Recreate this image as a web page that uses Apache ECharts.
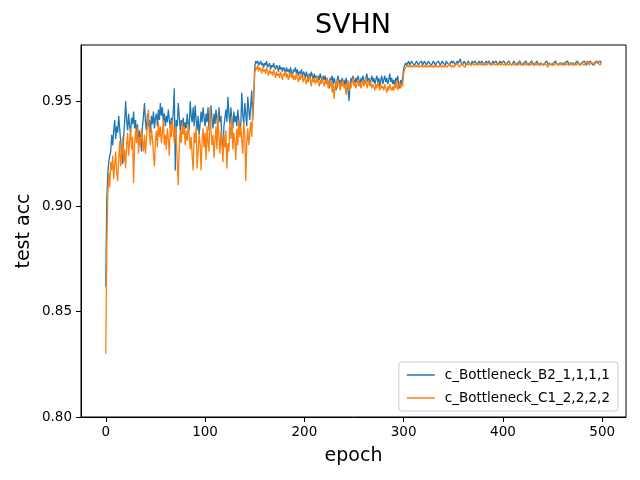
<!DOCTYPE html>
<html>
<head>
<meta charset="utf-8">
<script src="https://cdn.jsdelivr.net/npm/echarts@6/dist/echarts.min.js"></script>
<style>
  html, body { margin: 0; padding: 0; background: #fff; }
  #chart { width: 640px; height: 480px; }
</style>
</head>
<body>
<div id="chart"></div>
<script>
// test accuracy per epoch
const seriesNames = ['c_Bottleneck_B2_1,1,1,1', 'c_Bottleneck_C1_2,2,2,2'];

const accB2 = [
  0.862, 0.903, 0.915, 0.921, 0.924, 0.926, 0.934, 0.929, 0.936, 0.941,
  0.932, 0.938, 0.935, 0.943, 0.937, 0.931, 0.925, 0.920, 0.933, 0.940,
  0.950, 0.941, 0.936, 0.944, 0.938, 0.935, 0.942, 0.939, 0.945, 0.937,
  0.941, 0.934, 0.939, 0.930, 0.936, 0.932, 0.926, 0.938, 0.943, 0.949,
  0.940, 0.936, 0.944, 0.938, 0.941, 0.935, 0.943, 0.939, 0.945, 0.937,
  0.942, 0.944, 0.938, 0.946, 0.941, 0.949, 0.943, 0.947, 0.940, 0.944,
  0.938, 0.943, 0.940, 0.946, 0.941, 0.937, 0.942, 0.939, 0.945, 0.956,
  0.917, 0.941, 0.938, 0.949, 0.943, 0.936, 0.941, 0.938, 0.942, 0.935,
  0.940, 0.937, 0.944, 0.939, 0.936, 0.950, 0.943, 0.940, 0.947, 0.938,
  0.948, 0.941, 0.936, 0.943, 0.934, 0.939, 0.945, 0.940, 0.947, 0.942,
  0.938, 0.944, 0.940, 0.947, 0.936, 0.943, 0.948, 0.941, 0.937, 0.944,
  0.939, 0.946, 0.941, 0.936, 0.947, 0.940, 0.943, 0.931, 0.925, 0.938,
  0.942, 0.946, 0.940, 0.952, 0.944, 0.939, 0.947, 0.941, 0.937, 0.945,
  0.940, 0.943, 0.938, 0.946, 0.941, 0.936, 0.939, 0.954, 0.943, 0.939,
  0.949, 0.944, 0.938, 0.952, 0.946, 0.941, 0.941, 0.955, 0.941, 0.951,
  0.966, 0.969, 0.968, 0.969, 0.967, 0.968, 0.969, 0.967, 0.968, 0.966,
  0.968, 0.967, 0.969, 0.966, 0.967, 0.968, 0.965, 0.967, 0.966, 0.968,
  0.966, 0.965, 0.967, 0.966, 0.964, 0.967, 0.965, 0.966, 0.964, 0.966,
  0.965, 0.963, 0.966, 0.964, 0.965, 0.963, 0.966, 0.964, 0.962, 0.965,
  0.964, 0.966, 0.963, 0.965, 0.962, 0.964, 0.963, 0.965, 0.961, 0.964,
  0.963, 0.961, 0.964, 0.962, 0.960, 0.963, 0.961, 0.964, 0.962, 0.960,
  0.963, 0.961, 0.962, 0.959, 0.962, 0.960, 0.963, 0.961, 0.959, 0.962,
  0.960, 0.962, 0.958, 0.961, 0.959, 0.956, 0.961, 0.960, 0.962, 0.958,
  0.961, 0.959, 0.955, 0.960, 0.962, 0.958, 0.960, 0.957, 0.961, 0.959,
  0.960, 0.957, 0.961, 0.958, 0.955, 0.950, 0.958, 0.961, 0.959, 0.962,
  0.960, 0.958, 0.961, 0.959, 0.962, 0.960, 0.957, 0.961, 0.959, 0.962,
  0.960, 0.958, 0.961, 0.963, 0.959, 0.961, 0.958, 0.960, 0.962, 0.959,
  0.961, 0.958, 0.960, 0.962, 0.959, 0.961, 0.957, 0.960, 0.962, 0.958,
  0.960, 0.962, 0.959, 0.961, 0.958, 0.960, 0.963, 0.959, 0.961, 0.958,
  0.960, 0.957, 0.961, 0.959, 0.962, 0.958, 0.956, 0.960, 0.958, 0.961,
  0.965, 0.967, 0.968, 0.967, 0.968, 0.969, 0.967, 0.968, 0.969, 0.968,
  0.968, 0.967, 0.968, 0.969, 0.968, 0.967, 0.968, 0.968, 0.969, 0.967,
  0.968, 0.969, 0.968, 0.967, 0.968, 0.969, 0.968, 0.968, 0.967, 0.968,
  0.969, 0.968, 0.967, 0.968, 0.968, 0.969, 0.968, 0.967, 0.968, 0.969,
  0.968, 0.968, 0.967, 0.969, 0.968, 0.968, 0.967, 0.968, 0.969, 0.968,
  0.969, 0.968, 0.967, 0.968, 0.969, 0.968, 0.968, 0.970, 0.968, 0.967,
  0.968, 0.969, 0.968, 0.967, 0.968, 0.969, 0.968, 0.968, 0.967, 0.969,
  0.968, 0.968, 0.969, 0.968, 0.967, 0.968, 0.969, 0.968, 0.968, 0.969,
  0.968, 0.967, 0.968, 0.969, 0.968, 0.968, 0.969, 0.968, 0.967, 0.968,
  0.969, 0.968, 0.968, 0.969, 0.968, 0.967, 0.968, 0.969, 0.968, 0.968,
  0.968, 0.969, 0.968, 0.967, 0.968, 0.968, 0.969, 0.968, 0.968, 0.967,
  0.968, 0.969, 0.968, 0.968, 0.967, 0.968, 0.968, 0.969, 0.968, 0.968,
  0.967, 0.968, 0.968, 0.969, 0.968, 0.968, 0.967, 0.968, 0.968, 0.969,
  0.968, 0.968, 0.967, 0.968, 0.969, 0.968, 0.968, 0.967, 0.968, 0.968,
  0.968, 0.967, 0.968, 0.968, 0.969, 0.968, 0.967, 0.968, 0.968, 0.968,
  0.967, 0.968, 0.968, 0.969, 0.968, 0.968, 0.967, 0.968, 0.968, 0.968,
  0.968, 0.967, 0.968, 0.968, 0.968, 0.969, 0.968, 0.967, 0.968, 0.968,
  0.968, 0.968, 0.967, 0.968, 0.968, 0.969, 0.968, 0.968, 0.967, 0.968,
  0.968, 0.968, 0.969, 0.968, 0.967, 0.968, 0.968, 0.968, 0.969, 0.968,
  0.968, 0.967, 0.968, 0.968, 0.969, 0.968, 0.968, 0.968, 0.969, 0.968
];

const accC1 = [
  0.830, 0.880, 0.905, 0.916, 0.909, 0.921, 0.917, 0.924, 0.913, 0.920,
  0.926, 0.916, 0.912, 0.922, 0.931, 0.919, 0.925, 0.933, 0.921, 0.927,
  0.918, 0.929, 0.935, 0.924, 0.931, 0.937, 0.927, 0.933, 0.911, 0.929,
  0.936, 0.930, 0.938, 0.925, 0.933, 0.929, 0.937, 0.931, 0.926, 0.934,
  0.925, 0.932, 0.939, 0.946, 0.934, 0.929, 0.937, 0.932, 0.925, 0.919,
  0.931, 0.936, 0.928, 0.940, 0.933, 0.938, 0.930, 0.935, 0.941, 0.929,
  0.934, 0.927, 0.937, 0.932, 0.924, 0.939, 0.933, 0.941, 0.936, 0.930,
  0.938, 0.932, 0.922, 0.910, 0.928, 0.936, 0.930, 0.940, 0.934, 0.938,
  0.929, 0.936, 0.931, 0.939, 0.934, 0.927, 0.933, 0.924, 0.917, 0.935,
  0.930, 0.938, 0.918, 0.926, 0.934, 0.929, 0.917, 0.931, 0.937, 0.928,
  0.935, 0.922, 0.938, 0.930, 0.926, 0.947, 0.936, 0.929, 0.934, 0.923,
  0.931, 0.938, 0.927, 0.944, 0.933, 0.925, 0.936, 0.930, 0.921, 0.934,
  0.928, 0.936, 0.918, 0.930, 0.926, 0.939, 0.932, 0.943, 0.927, 0.935,
  0.930, 0.922, 0.937, 0.929, 0.941, 0.933, 0.938, 0.931, 0.925, 0.940,
  0.934, 0.912, 0.930, 0.937, 0.929, 0.935, 0.940, 0.933, 0.945, 0.953,
  0.963, 0.966, 0.965, 0.967, 0.964, 0.966, 0.965, 0.963, 0.966, 0.964,
  0.965, 0.963, 0.966, 0.964, 0.962, 0.965, 0.963, 0.964, 0.962, 0.965,
  0.963, 0.961, 0.964, 0.962, 0.963, 0.961, 0.964, 0.962, 0.960, 0.963,
  0.962, 0.964, 0.961, 0.963, 0.960, 0.962, 0.964, 0.961, 0.963, 0.960,
  0.962, 0.960, 0.963, 0.961, 0.959, 0.962, 0.960, 0.963, 0.961, 0.959,
  0.962, 0.960, 0.958, 0.961, 0.959, 0.962, 0.960, 0.957, 0.961, 0.959,
  0.961, 0.958, 0.960, 0.962, 0.959, 0.957, 0.960, 0.958, 0.961, 0.959,
  0.957, 0.960, 0.958, 0.961, 0.956, 0.959, 0.957, 0.960, 0.954, 0.958,
  0.951, 0.957, 0.959, 0.956, 0.960, 0.958, 0.955, 0.959, 0.957, 0.960,
  0.956, 0.958, 0.953, 0.957, 0.960, 0.955, 0.958, 0.956, 0.959, 0.961,
  0.957, 0.959, 0.956, 0.958, 0.960, 0.957, 0.959, 0.956, 0.958, 0.960,
  0.957, 0.959, 0.961, 0.956, 0.958, 0.960, 0.957, 0.959, 0.956, 0.958,
  0.957, 0.955, 0.958, 0.956, 0.959, 0.957, 0.955, 0.958, 0.956, 0.957,
  0.955, 0.958, 0.956, 0.954, 0.957, 0.955, 0.958, 0.956, 0.955, 0.957,
  0.955, 0.958, 0.956, 0.960, 0.955, 0.957, 0.959, 0.956, 0.958, 0.957,
  0.963, 0.965, 0.966, 0.966, 0.967, 0.966, 0.967, 0.966, 0.967, 0.966,
  0.967, 0.966, 0.966, 0.967, 0.966, 0.967, 0.966, 0.966, 0.967, 0.966,
  0.966, 0.967, 0.966, 0.967, 0.966, 0.966, 0.967, 0.966, 0.967, 0.967,
  0.966, 0.967, 0.966, 0.967, 0.967, 0.966, 0.967, 0.967, 0.966, 0.967,
  0.967, 0.966, 0.967, 0.967, 0.966, 0.967, 0.968, 0.967, 0.966, 0.967,
  0.967, 0.966, 0.967, 0.967, 0.968, 0.967, 0.966, 0.967, 0.967, 0.968,
  0.967, 0.967, 0.966, 0.967, 0.968, 0.967, 0.967, 0.968, 0.967, 0.967,
  0.968, 0.967, 0.967, 0.968, 0.967, 0.967, 0.968, 0.967, 0.968, 0.967,
  0.967, 0.968, 0.967, 0.968, 0.967, 0.967, 0.968, 0.968, 0.967, 0.968,
  0.967, 0.968, 0.968, 0.967, 0.968, 0.967, 0.968, 0.968, 0.967, 0.968,
  0.968, 0.967, 0.968, 0.967, 0.968, 0.968, 0.967, 0.968, 0.968, 0.967,
  0.968, 0.968, 0.967, 0.968, 0.968, 0.967, 0.968, 0.968, 0.967, 0.968,
  0.968, 0.967, 0.968, 0.968, 0.967, 0.968, 0.968, 0.968, 0.967, 0.968,
  0.968, 0.967, 0.968, 0.968, 0.968, 0.967, 0.968, 0.968, 0.967, 0.968,
  0.968, 0.967, 0.968, 0.968, 0.967, 0.966, 0.967, 0.968, 0.968, 0.967,
  0.968, 0.968, 0.967, 0.968, 0.968, 0.968, 0.967, 0.968, 0.968, 0.967,
  0.968, 0.968, 0.968, 0.967, 0.968, 0.968, 0.967, 0.968, 0.968, 0.968,
  0.967, 0.968, 0.968, 0.968, 0.967, 0.968, 0.968, 0.968, 0.967, 0.968,
  0.968, 0.968, 0.967, 0.968, 0.968, 0.969, 0.968, 0.967, 0.968, 0.968,
  0.968, 0.968, 0.967, 0.968, 0.968, 0.969, 0.968, 0.968, 0.967, 0.968
];

const xTicks = [0, 100, 200, 300, 400, 500];
const yTicks = [0.80, 0.85, 0.90, 0.95];

const font = 'DejaVu Sans';

function toPairs(values) {
  return values.map((v, epoch) => [epoch, v]);
}

const chart = echarts.init(document.getElementById('chart'), null, { renderer: 'canvas' });

chart.setOption({
  animation: false,
  backgroundColor: '#fff',
  title: {
    text: 'SVHN',
    left: 353,
    textAlign: 'center',
    top: 12,
    padding: 0,
    textStyle: { fontFamily: font, fontSize: 27, fontWeight: 'normal', color: '#000' }
  },
  grid: {
    left: 81,
    right: 14,
    top: 45,
    bottom: 63,
    show: true,
    borderColor: '#000',
    borderWidth: 1,
    backgroundColor: 'transparent'
  },
  legend: {
    orient: 'vertical',
    right: 22,
    bottom: 69,
    icon: 'rect',
    itemWidth: 28,
    itemHeight: 1.5,
    itemGap: 9,
    padding: [6, 8, 6, 8],
    backgroundColor: 'rgba(255,255,255,0.8)',
    borderColor: '#cccccc',
    borderWidth: 1,
    borderRadius: 3,
    textStyle: { fontFamily: font, fontSize: 13.5, color: '#000', padding: [0, 0, 0, 5] },
    data: seriesNames
  },
  xAxis: {
    type: 'value',
    min: -24.95,
    max: 523.95,
    name: 'epoch',
    nameLocation: 'middle',
    nameGap: 30,
    nameMoveOverlap: false,
    nameTextStyle: { fontFamily: font, fontSize: 19, color: '#000' },
    axisLine: { show: true, onZero: false, lineStyle: { color: '#000', width: 1 } },
    axisTick: { show: true, length: 5, customValues: xTicks, lineStyle: { color: '#000' } },
    axisLabel: { customValues: xTicks, margin: 8, fontFamily: font, fontSize: 13.5, color: '#000' },
    splitLine: { show: false }
  },
  yAxis: {
    type: 'value',
    min: 0.80,
    max: 0.9766,
    name: 'test acc',
    nameLocation: 'middle',
    nameGap: 47,
    nameMoveOverlap: false,
    nameTextStyle: { fontFamily: font, fontSize: 19, color: '#000' },
    axisLine: { show: true, onZero: false, lineStyle: { color: '#000', width: 1 } },
    axisTick: { show: true, length: 5, customValues: yTicks, lineStyle: { color: '#000' } },
    axisLabel: {
      customValues: yTicks,
      margin: 9,
      fontFamily: font,
      fontSize: 13.5,
      color: '#000',
      formatter: (v) => v.toFixed(2)
    },
    splitLine: { show: false }
  },
  series: [
    {
      name: seriesNames[0],
      type: 'line',
      data: toPairs(accB2),
      showSymbol: false,
      symbol: 'none',
      color: '#1f77b4',
      lineStyle: { width: 1.3, color: '#1f77b4' }
    },
    {
      name: seriesNames[1],
      type: 'line',
      data: toPairs(accC1),
      showSymbol: false,
      symbol: 'none',
      color: '#ff7f0e',
      lineStyle: { width: 1.3, color: '#ff7f0e' }
    }
  ]
});
</script>
</body>
</html>
